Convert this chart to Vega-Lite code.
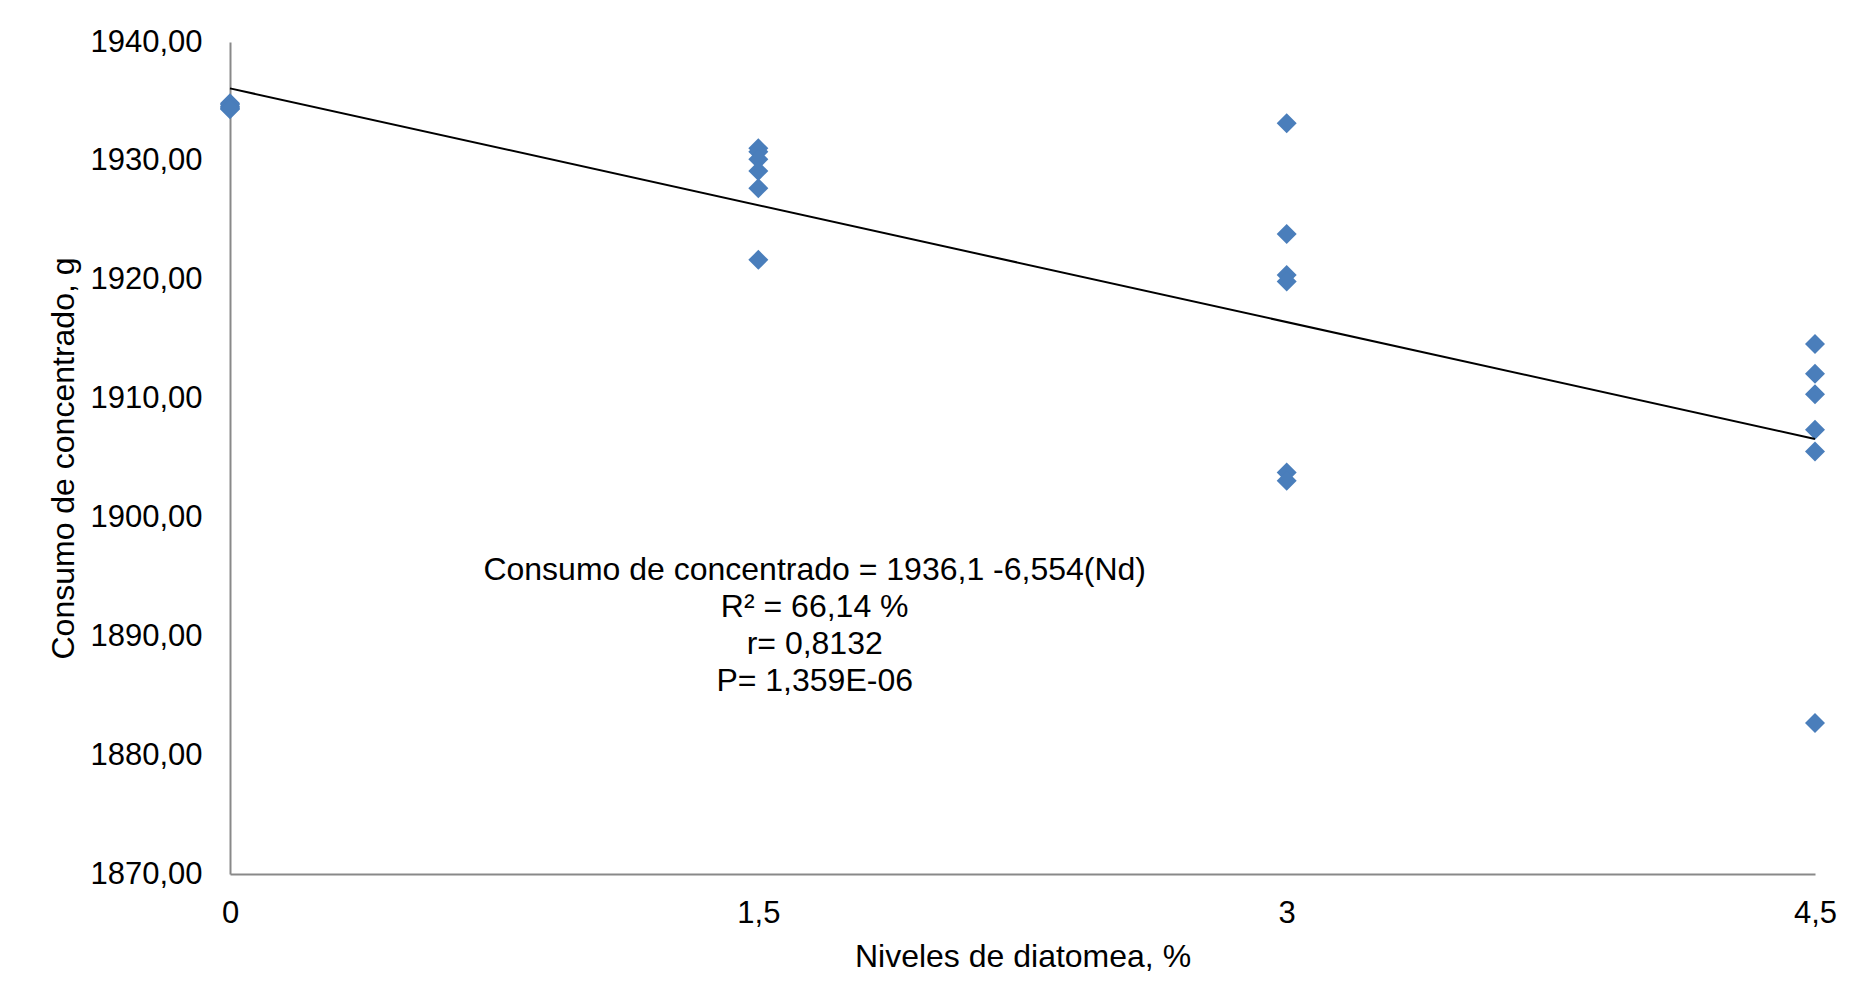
{
  "$schema": "https://vega.github.io/schema/vega-lite/v6.json",
  "autosize": {"type": "none"},
  "width": 1585,
  "height": 832,
  "padding": {"left": 230, "top": 42, "right": 34, "bottom": 128},
  "background": "white",
  "config": {
    "view": {"stroke": null},
    "font": "Liberation Sans",
    "axis": {"grid": false, "ticks": false, "tickSize": 0, "labelFlush": false, "domainColor": "#898989", "domainWidth": 2, "labelFont": "Liberation Sans", "titleFont": "Liberation Sans", "labelFontSize": 31, "titleFontSize": 32, "labelColor": "black", "titleColor": "black", "titleFontWeight": "normal"}
  },
  "datasets": {
    "points": [
      {"nivel": 0, "consumo": 1934.85},
      {"nivel": 0, "consumo": 1934.75},
      {"nivel": 0, "consumo": 1934.6},
      {"nivel": 0, "consumo": 1934.5},
      {"nivel": 0, "consumo": 1934.4},
      {"nivel": 0, "consumo": 1934.35},
      {"nivel": 1.5, "consumo": 1931.06},
      {"nivel": 1.5, "consumo": 1930.77},
      {"nivel": 1.5, "consumo": 1930.13},
      {"nivel": 1.5, "consumo": 1929.15},
      {"nivel": 1.5, "consumo": 1927.7},
      {"nivel": 1.5, "consumo": 1921.67},
      {"nivel": 3, "consumo": 1933.16},
      {"nivel": 3, "consumo": 1923.85},
      {"nivel": 3, "consumo": 1920.4},
      {"nivel": 3, "consumo": 1919.84},
      {"nivel": 3, "consumo": 1903.78},
      {"nivel": 3, "consumo": 1903.08},
      {"nivel": 4.5, "consumo": 1914.6},
      {"nivel": 4.5, "consumo": 1912.08},
      {"nivel": 4.5, "consumo": 1910.37},
      {"nivel": 4.5, "consumo": 1907.37},
      {"nivel": 4.5, "consumo": 1905.54},
      {"nivel": 4.5, "consumo": 1882.7}
    ],
    "trend": [
      {"nivel": 0, "consumo": 1936.1},
      {"nivel": 4.5, "consumo": 1906.607}
    ]
  },
  "layer": [
    {
      "data": {"name": "points"},
      "mark": {"type": "point", "shape": "diamond", "filled": true, "size": 400, "color": "#4A7EBB", "opacity": 1},
      "encoding": {
        "x": {"field": "nivel", "type": "quantitative", "scale": {"domain": [0, 4.5], "nice": false, "zero": false},
              "axis": {"values": [0, 1.5, 3, 4.5], "format": ".1~f", "labelExpr": "replace(datum.label, '.', ',')", "labelPadding": 24, "titlePadding": 13, "title": "Niveles de diatomea, %"}},
        "y": {"field": "consumo", "type": "quantitative", "scale": {"domain": [1870, 1940], "nice": false, "zero": false},
              "axis": {"values": [1870, 1880, 1890, 1900, 1910, 1920, 1930, 1940], "format": ".2f", "labelExpr": "replace(datum.label, '.', ',')", "labelPadding": 28, "titlePadding": 9, "title": "Consumo de concentrado, g"}}
      }
    },
    {
      "data": {"name": "trend"},
      "mark": {"type": "line", "color": "black", "strokeWidth": 2},
      "encoding": {
        "x": {"field": "nivel", "type": "quantitative"},
        "y": {"field": "consumo", "type": "quantitative"}
      }
    },
    {
      "data": {"values": [{"nivel": 1.66, "consumo": 1895.6, "txt": ["Consumo de concentrado = 1936,1 -6,554(Nd)", "R² = 66,14 %", "r= 0,8132", "P= 1,359E-06"]}]},
      "mark": {"type": "text", "fontSize": 32, "font": "Liberation Sans", "align": "center", "baseline": "middle", "lineHeight": 37, "color": "black"},
      "encoding": {
        "x": {"field": "nivel", "type": "quantitative"},
        "y": {"field": "consumo", "type": "quantitative"},
        "text": {"field": "txt"}
      }
    }
  ]
}
